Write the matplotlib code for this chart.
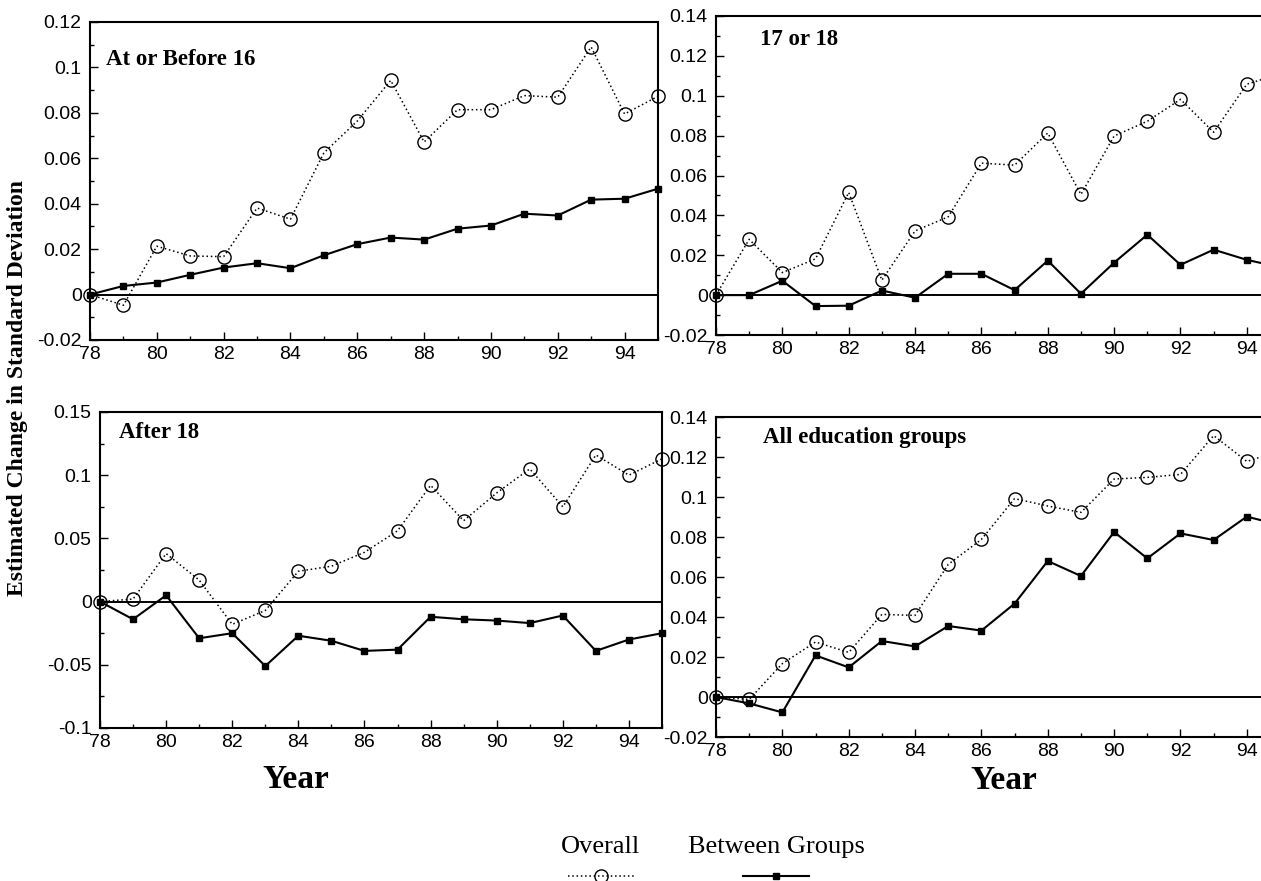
import matplotlib
matplotlib.use("Agg")
import matplotlib.pyplot as plt
from matplotlib.ticker import MultipleLocator, FuncFormatter
from matplotlib.lines import Line2D

plt.rcParams["axes.unicode_minus"] = False

years = list(range(78, 96))

# Leaving school at or before age 16
early_overall = [0, -0.0047, 0.0213, 0.0170, 0.0167, 0.0381, 0.0332, 0.0624, 0.0764,
                 0.0943, 0.0672, 0.0814, 0.0814, 0.0876, 0.0869, 0.1090, 0.0795, 0.0873]
early_between = [0, 0.0038, 0.0053, 0.0087, 0.0119, 0.0138, 0.0116, 0.0173, 0.0222,
                 0.0251, 0.0242, 0.0290, 0.0304, 0.0356, 0.0348, 0.0418, 0.0422, 0.0466]

# Leaving school at 17 or 18
mid_overall = [0, 0.0280, 0.0113, 0.0182, 0.0515, 0.0075, 0.0322, 0.0393, 0.0662,
               0.0652, 0.0813, 0.0505, 0.0798, 0.0872, 0.0982, 0.0817, 0.1058, 0.1110]
mid_between = [0, 0.0000, 0.0072, -0.0055, -0.0053, 0.0023, -0.0013, 0.0107, 0.0107,
               0.0025, 0.0173, 0.0007, 0.0163, 0.0303, 0.0152, 0.0228, 0.0177, 0.0140]

# Leaving school after 18
late_overall = [0, 0.002, 0.038, 0.017, -0.018, -0.007, 0.024, 0.028, 0.039,
                0.056, 0.092, 0.064, 0.086, 0.105, 0.075, 0.116, 0.100, 0.113]
late_between = [0, -0.014, 0.005, -0.029, -0.025, -0.051, -0.027, -0.031, -0.039,
                -0.038, -0.012, -0.014, -0.015, -0.017, -0.011, -0.039, -0.030, -0.025]

# All education groups pooled
all_overall = [0, -0.0012, 0.0167, 0.0275, 0.0223, 0.0413, 0.0408, 0.0663, 0.0788,
               0.0992, 0.0955, 0.0923, 0.1090, 0.1098, 0.1113, 0.1307, 0.1178, 0.1230]
all_between = [0, -0.0032, -0.0077, 0.0208, 0.0148, 0.0280, 0.0253, 0.0355, 0.0332,
               0.0467, 0.0680, 0.0605, 0.0825, 0.0693, 0.0818, 0.0785, 0.0902, 0.0860]

titles = ["At or Before 16", "17 or 18", "After 18", "All education groups"]
legend_labels = ["Overall", "Between Groups"]

W, H = 1261, 881
fig = plt.figure(figsize=(W / 100, H / 100), dpi=100)

SANS = "Liberation Sans"
SERIF = "Liberation Serif"

OVERALL_STYLE = dict(color="black", lw=1.1, linestyle=(0, (1.0, 1.8)), marker="o",
                     markersize=9.5, markerfacecolor="none", markeredgewidth=1.0)
BETWEEN_STYLE = dict(color="black", lw=1.5, linestyle="-", marker="s", markersize=5)


def fmt(v, pos):
    s = f"{v:.2f}".rstrip("0").rstrip(".")
    return "0" if s in ("-0", "0") else s


def panel(box, overall, between, title, ylim, ystep, title_off):
    left, right, top, bottom = box
    ax = fig.add_axes([left / W, 1 - bottom / H, (right - left) / W, (bottom - top) / H])
    ax.set_facecolor("none")
    ax.set_xlim(78, 95)
    ax.set_ylim(*ylim)
    ax.axhline(0, color="black", lw=1.4, zorder=1)
    ax.plot(years, overall, clip_on=False, zorder=3, **OVERALL_STYLE)
    ax.plot(years, between, clip_on=False, zorder=4, **BETWEEN_STYLE)
    ax.xaxis.set_major_locator(MultipleLocator(2))
    ax.xaxis.set_minor_locator(MultipleLocator(1))
    ax.yaxis.set_major_locator(MultipleLocator(ystep))
    ax.yaxis.set_minor_locator(MultipleLocator(ystep / 2))
    ax.yaxis.set_major_formatter(FuncFormatter(fmt))
    ax.xaxis.set_major_formatter(FuncFormatter(lambda v, p: f"{int(round(v))}"))
    ax.tick_params(which="both", direction="in", top=False, right=False, width=1.0)
    ax.tick_params(which="major", length=5.5, labelsize=14, pad=6)
    ax.tick_params(which="minor", length=3)
    ax.tick_params(axis="x", pad=4)
    for lab in ax.get_xticklabels() + ax.get_yticklabels():
        lab.set_fontfamily(SANS)
    for sp in ax.spines.values():
        sp.set_linewidth(1.5)
    ax.annotate(title, xy=(0, 1), xycoords="axes fraction", xytext=title_off,
                textcoords="offset pixels", ha="left", va="baseline",
                fontfamily=SERIF, fontweight="bold", fontsize=16.5)
    return ax


# left-hand panels first, right-hand panels drawn over them
panel((90, 658, 22, 340), early_overall, early_between, titles[0], (-0.02, 0.12), 0.02, (16, -43))
panel((100, 662, 412, 728), late_overall, late_between, titles[2], (-0.1, 0.15), 0.05, (19, -26))
panel((716, 1280, 16, 335), mid_overall, mid_between, titles[1], (-0.02, 0.14), 0.02, (44, -29))
panel((716, 1280, 417, 737), all_overall, all_between, titles[3], (-0.02, 0.14), 0.02, (47, -26))

# axis titles
fig.text(296 / W, 1 - 788 / H, "Year", ha="center", va="baseline",
         fontfamily=SERIF, fontweight="bold", fontsize=24)
fig.text(1004 / W, 1 - 789 / H, "Year", ha="center", va="baseline",
         fontfamily=SERIF, fontweight="bold", fontsize=24)
fig.text(18 / W, 1 - 388 / H, "Estimated Change in Standard Deviation", rotation=90,
         ha="center", va="center", fontfamily=SERIF, fontweight="bold", fontsize=17)

# legend: label above its line sample
ly = 1 - 876 / H
for cx, label, style in [(601, legend_labels[0], OVERALL_STYLE),
                         (776, legend_labels[1], BETWEEN_STYLE)]:
    fig.text(cx / W, 1 - 853 / H, label, ha="center", va="baseline",
             fontfamily=SERIF, fontsize=19)
    xs = [(cx - 33) / W, cx / W, (cx + 33) / W]
    fig.add_artist(Line2D(xs, [ly] * 3, transform=fig.transFigure, markevery=[1], **style))

fig.savefig("out.png", dpi=100)
